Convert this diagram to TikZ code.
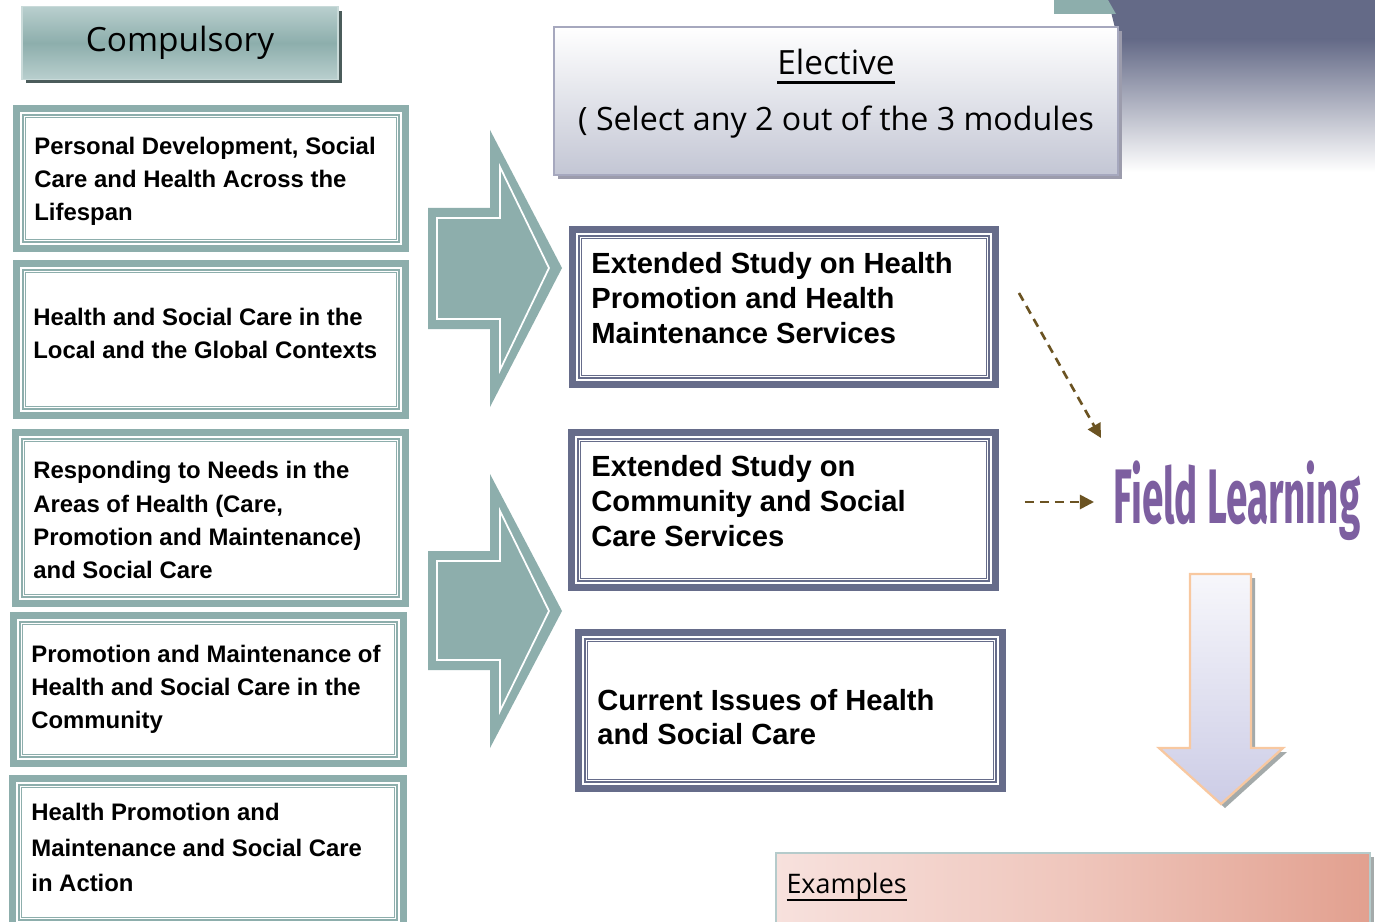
\documentclass[tikz,border=0pt]{standalone}
\usepackage{fontspec}
\setmainfont{Liberation Sans}
\newfontfamily\segoefont{Open Sans}
\newfontfamily\fieldfont{Fira Sans}
\usepackage{xcolor}
\usepackage{graphicx}
\usetikzlibrary{arrows.meta,positioning,shadows}
\definecolor{cteal}{HTML}{8DAEAC}
\definecolor{cslate}{HTML}{666C8A}
\definecolor{cplum}{HTML}{7D5FA0}
\definecolor{cbrown}{HTML}{6B5322}
\definecolor{cpeach}{HTML}{F8C8A0}
\definecolor{clavtop}{HTML}{F7F7FB}
\definecolor{clavbot}{HTML}{CCCCE6}
\definecolor{cgrayshadow}{HTML}{A4AAAA}
\definecolor{ccomptop}{HTML}{B9CFCE}
\definecolor{ccompline}{HTML}{C9DAD9}
\definecolor{cdkshadow}{HTML}{4B5C5B}
\definecolor{celecbot}{HTML}{C3C6D4}
\definecolor{celecline}{HTML}{A6A8BE}
\definecolor{celecshadow}{HTML}{9C9CAC}
\definecolor{cdark}{HTML}{646A87}
\definecolor{cexleft}{HTML}{F7E1DD}
\definecolor{cexmid}{HTML}{EFC6BC}
\definecolor{cexright}{HTML}{E2A08F}
\definecolor{cexline}{HTML}{B5CBCB}
\newcommand{\thickul}[3]{\setbox0\hbox{#1}\leavevmode\rlap{\rule[-#2]{\wd0}{#3}}\box0}

\begin{document}
\begin{tikzpicture}[x=0.02cm, y=-0.02cm,
		modframe/.style={rectangle, inner sep=0pt, outer sep=0pt, fill=white, path picture={
			\fill[#1] (path picture bounding box.south west) rectangle (path picture bounding box.north east);
			\fill[white] ([shift={(0.14cm,0.14cm)}]path picture bounding box.south west) rectangle ([shift={(-0.14cm,-0.14cm)}]path picture bounding box.north east);
			\draw[#1, line width=0.8pt] ([shift={(0.198cm,0.198cm)}]path picture bounding box.south west) rectangle ([shift={(-0.198cm,-0.198cm)}]path picture bounding box.north east);
			\draw[#1, line width=0.55pt] ([shift={(0.252cm,0.252cm)}]path picture bounding box.south west) rectangle ([shift={(-0.252cm,-0.252cm)}]path picture bounding box.north east);
		}},
		comptext/.style={anchor=west, align=left, inner sep=0pt, font=\fontsize{13.6}{18.8}\selectfont\bfseries},
		electext/.style={anchor=west, align=left, inner sep=0pt, font=\fontsize{16.6}{19.8}\selectfont\bfseries},
		fldarrow/.style={draw=cbrown, line width=1.5pt, dash pattern=on 5pt off 3.5pt, -{Triangle[length=8pt, width=8pt]}},
		tealinner/.style={draw=white, line width=1pt},
	]
		\useasboundingbox (0,0) rectangle (1375,922);
		\clip (0,0) rectangle (1375,922);
		\fill[white] (0,0) rectangle (1375,922);

		\fill[cdark] (1108,0) -- (1375,0) -- (1375,40) -- (1118,40) -- cycle;
		\shade[top color=cdark, bottom color=white] (1118,39) rectangle (1375,172);
		\fill[cteal] (1054,0) -- (1108,0) -- (1116,14) -- (1054,14) -- cycle;

		\node[draw=ccompline, line width=1pt, top color=ccomptop, bottom color=ccomptop, middle color=cteal, minimum width=6.32cm, minimum height=1.46cm, drop shadow={shadow xshift=0.08cm, shadow yshift=-0.08cm, fill=cdkshadow, opacity=1}, font=\segoefont\fontsize{19}{22}\selectfont] (comp) at (180,43) {Compulsory};

		\node[draw=celecline, line width=1.5pt, top color=white, bottom color=celecbot, minimum width=11.28cm, minimum height=2.96cm, drop shadow={shadow xshift=0.08cm, shadow yshift=-0.08cm, fill=celecshadow, opacity=1}] (elect) at (836,101) {};
		\node[align=center, font=\segoefont\fontsize{18.3}{31.9}\selectfont] (electtext) at ([yshift=0.14cm]elect.center) {{\fontsize{19}{22}\selectfont\thickul{Elective}{5.5pt}{1.7pt}}\\( Select any 2 out of the 3 modules};

		\node[modframe=cteal, minimum width=7.92cm, minimum height=2.94cm] (c1) at (211,178.5) {};
		\node[comptext] (c1text) at ([xshift=0.42cm, yshift=-0.06cm]c1.west) {Personal Development, Social\\Care and Health Across the\\Lifespan};
		\node[modframe=cteal, minimum width=7.92cm, minimum height=3.18cm] (c2) at (211,339.5) {};
		\node[comptext] (c2text) at ([xshift=0.4cm, yshift=0.12cm]c2.west) {Health and Social Care in the\\Local and the Global Contexts};
		\node[modframe=cteal, minimum width=7.94cm, minimum height=3.56cm] (c3) at (210.5,518) {};
		\node[comptext] (c3text) at ([xshift=0.42cm, yshift=-0.04cm]c3.west) {Responding to Needs in the\\Areas of Health (Care,\\Promotion and Maintenance)\\and Social Care};
		\node[modframe=cteal, minimum width=7.94cm, minimum height=3.1cm] (c4) at (208.5,689.5) {};
		\node[comptext] (c4text) at ([xshift=0.42cm, yshift=0.01cm]c4.west) {Promotion and Maintenance of\\Health and Social Care in the\\Community};
		\node[modframe=cteal, minimum width=7.96cm, minimum height=3.1cm] (c5) at (208,852.5) {};
		\node[comptext, font=\fontsize{13.6}{20.2}\selectfont\bfseries] (c5text) at ([xshift=0.44cm, yshift=0.1cm]c5.west) {Health Promotion and\\Maintenance and Social Care\\in Action};

		\fill[cteal] (428,208) -- (490,208) -- (490,130) -- (562,268) -- (490,407) -- (490,329) -- (428,329) -- cycle;
		\draw[tealinner] (437,218) -- (500,218) -- (500,167) -- (549,268) -- (500,370) -- (500,319) -- (437,319) -- cycle;
		\fill[cteal] (428,551) -- (490,551) -- (490,474) -- (562,611) -- (490,748) -- (490,670) -- (428,670) -- cycle;
		\draw[tealinner] (437,561) -- (500,561) -- (500,511) -- (549,611) -- (500,711) -- (500,660) -- (437,660) -- cycle;

		\node[modframe=cslate, minimum width=8.6cm, minimum height=3.24cm] (e1) at (784,307) {};
		\node[electext] (e1text) at ([xshift=0.44cm, yshift=0.18cm]e1.west) {Extended Study on Health\\Promotion and Health\\Maintenance Services};
		\node[modframe=cslate, minimum width=8.62cm, minimum height=3.24cm] (e2) at (783.5,510) {};
		\node[electext] (e2text) at ([xshift=0.46cm, yshift=0.18cm]e2.west) {Extended Study on\\Community and Social\\Care Services};
		\node[modframe=cslate, minimum width=8.62cm, minimum height=3.26cm] (e3) at (790.5,710.5) {};
		\node[electext] (e3text) at ([xshift=0.44cm, yshift=-0.13cm]e3.west) {Current Issues of Health\\and Social Care};

		\node[font=\fieldfont\bfseries\fontsize{44}{48}\selectfont, text=cplum, inner sep=0pt] (field) at (1237,501) {\scalebox{0.5}[1]{Field Learning}};
		\coordinate (flhead) at (1101,438);
		\coordinate (flside) at (1094,502);
		\draw[fldarrow] ([shift={(20,-14)}]e1.east) -- (flhead);
		\draw[fldarrow] ([shift={(26,-8)}]e2.east) -- (flside);

		\fill[cgrayshadow, shift={(4,4)}] (1190,574) -- (1251,574) -- (1251,748) -- (1283,748) -- (1221,804) -- (1159,748) -- (1190,748) -- cycle;
		\shade[top color=clavtop, bottom color=clavbot, draw=cpeach, line width=1.3pt] (1190,574) -- (1251,574) -- (1251,748) -- (1283,748) -- (1221,804) -- (1159,748) -- (1190,748) -- cycle;

		\node[draw=cexline, line width=1pt, left color=cexleft, right color=cexright, middle color=cexmid, minimum width=11.88cm, minimum height=1.6cm, drop shadow={shadow xshift=0.08cm, shadow yshift=-0.08cm, fill=cgrayshadow, opacity=1}] (exbox) at (1073,893) {};
		\node[anchor=west, inner sep=0pt, font=\segoefont\fontsize{15.3}{18}\selectfont] (extext) at ([xshift=0.22cm, yshift=0.12cm]exbox.west) {\thickul{Examples}{4.5pt}{1.3pt}};
	\end{tikzpicture}
\end{document}
